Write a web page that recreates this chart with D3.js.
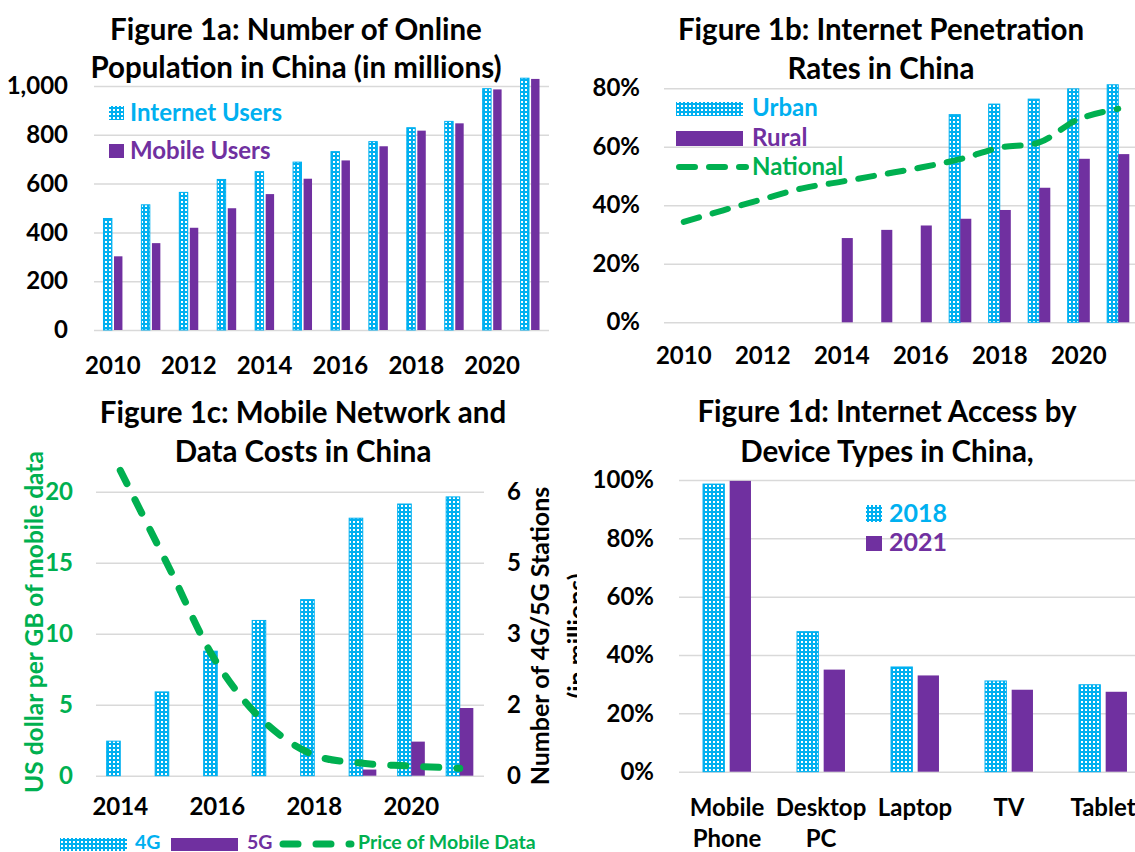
<!DOCTYPE html>
<meta charset="utf-8">
<style>
body { margin: 0; background: #fff; }
svg { display: block; font-family: Lato, "Open Sans", sans-serif; font-weight: bold; }
.grid line { stroke: #d9d9d9; stroke-width: 1.5px; }
.title { font-size: 29.5px; fill: #000; }
</style>
<svg width="1135" height="852"></svg>
<script src="https://d3js.org/d3.v7.min.js"></script>
<script>

// ---- data ----
var years = [2010, 2011, 2012, 2013, 2014, 2015, 2016, 2017, 2018, 2019, 2020, 2021];
var yearLabels = [2010, 2012, 2014, 2016, 2018, 2020];

// fig 1a (millions)
var internetUsers = [457, 513, 564, 617, 649, 688, 731, 772, 829, 855, 989, 1032];
var mobileUsers   = [302, 356, 419, 499, 557, 620, 695, 753, 817, 847, 986, 1029];
var ticks1a = [0, 200, 400, 600, 800, 1000];

// fig 1b (%)
var urbanRate    = [null, null, null, null, null, null, null, 71.0, 74.6, 76.3, 79.8, 81.2];
var ruralRate    = [null, null, null, null, 28.8, 31.6, 33.1, 35.4, 38.4, 46.0, 55.9, 57.5];
var nationalRate = [34.3, 38.3, 42.1, 45.8, 48.1, 50.5, 52.9, 55.8, 59.7, 61.5, 69.5, 73.0];
var ticks1b = [0, 20, 40, 60, 80];

// fig 1c
var years1c = [2014, 2015, 2016, 2017, 2018, 2019, 2020, 2021];
var yearLabels1c = [2014, 2016, 2018, 2020];
var stations4G = [0.73, 1.77, 2.63, 3.28, 3.72, 5.44, 5.74, 5.89];   // millions
var stations5G = [null, null, null, null, null, 0.13, 0.72, 1.43];
var dataPrice  = [21.5, 14.7, 7.9, 3.7, 1.45, 0.87, 0.68, 0.52];     // USD per GB
var ticks1cLeft = [0, 5, 10, 15, 20];
var ticks1cRight = [0, 1.5, 3, 4.5, 6];

// fig 1d (%)
var devices = ["Mobile\nPhone", "Desktop\nPC", "Laptop", "TV", "Tablet"];
var access2018 = [98.6, 48.0, 35.9, 31.1, 29.8];
var access2021 = [99.7, 35.0, 33.0, 28.1, 27.4];
var ticks1d = [0, 20, 40, 60, 80, 100];

var CYAN = "#00B0F0", PURPLE = "#7030A0", GREEN = "#00B050";

var svg = d3.select("svg");

// dotted fill used for the light blue series
var defs = svg.append("defs");
var pat = defs.append("pattern").attr("id", "dots")
    .attr("patternUnits", "userSpaceOnUse").attr("width", 4).attr("height", 4);
pat.append("rect").attr("width", 4).attr("height", 4).attr("fill", CYAN);
pat.append("rect").attr("x", 1).attr("y", 1).attr("width", 2).attr("height", 2).attr("fill", "#fff");

defs.append("clipPath").attr("id", "clip1c")
  .append("rect").attr("x", 0).attr("y", 390).attr("width", 577).attr("height", 462);

function gridAxis(g, y, x0, x1, ticks, fmt, pad, color) {
  var a = g.append("g").attr("class", "grid")
      .attr("transform", "translate(" + x0 + ",0)")
      .call(d3.axisLeft(y).tickValues(ticks).tickSize(-(x1 - x0)).tickPadding(pad).tickFormat(fmt));
  a.attr("font-family", null).attr("font-size", 24);
  a.select(".domain").remove();
  a.selectAll("text").attr("fill", color || "#000");
  return a;
}

function xAxis(g, x, yPos, ticks, pad) {
  var a = g.append("g")
      .attr("transform", "translate(0," + yPos + ")")
      .call(d3.axisBottom(x).tickValues(ticks).tickSize(0).tickPadding(pad));
  a.attr("font-family", null).attr("font-size", 24);
  a.select(".domain").remove();
  a.selectAll("text").attr("fill", "#000");
  return a;
}

function bars(g, cats, series, x0, y, innerPad) {
  var x1 = d3.scaleBand().domain(series.map(function(s) { return s.key; }))
      .range([0, x0.bandwidth()]).paddingInner(innerPad);
  series.forEach(function(s) {
    g.append("g").selectAll("rect")
      .data(cats.map(function(c, i) { return {c: c, v: s.values[i]}; })
                .filter(function(d) { return d.v != null; }))
      .join("rect")
        .attr("x", function(d) { return x0(d.c) + x1(s.key); })
        .attr("y", function(d) { return y(d.v); })
        .attr("width", x1.bandwidth())
        .attr("height", function(d) { return y(0) - y(d.v); })
        .attr("fill", s.fill)
        .attr("stroke", s.stroke || "none")
        .attr("stroke-width", 1);
  });
}

function dashLine(g, cats, values, x0, y, width, dash) {
  var line = d3.line()
      .defined(function(d) { return d.v != null; })
      .x(function(d) { return x0(d.c) + x0.bandwidth() / 2; })
      .y(function(d) { return y(d.v); })
      .curve(d3.curveCatmullRom.alpha(0.5));
  g.append("path")
      .datum(cats.map(function(c, i) { return {c: c, v: values[i]}; }))
      .attr("d", line)
      .attr("fill", "none")
      .attr("stroke", GREEN)
      .attr("stroke-width", width)
      .attr("stroke-linecap", "round")
      .attr("stroke-dasharray", dash);
}

function title(lines, cx, ys) {
  lines.forEach(function(t, i) {
    svg.append("text").attr("class", "title")
      .attr("x", cx).attr("y", ys[i]).attr("text-anchor", "middle").text(t);
  });
}

function legendText(g, x, y, txt, color, size) {
  g.append("text").attr("x", x).attr("y", y).attr("fill", color)
    .attr("font-size", size || 24).text(txt);
}

// ================= Figure 1a =================
var g1 = svg.append("g");
var x1a = d3.scaleBand().domain(years).range([94, 549]).paddingInner(0.5).paddingOuter(0.25);
var y1a = d3.scaleLinear().domain([0, 1000]).range([330, 86]);
gridAxis(g1, y1a, 94, 549, ticks1a, d3.format(","), 26);
xAxis(g1, x1a, 330, yearLabels, 26.5);
bars(g1, years, [
  {key: "internet", values: internetUsers, fill: "url(#dots)", stroke: CYAN},
  {key: "mobile", values: mobileUsers, fill: PURPLE}
], x1a, y1a, 0.2);
title(["Figure 1a: Number of Online", "Population in China (in millions)"], 296, [40, 78]);
g1.append("rect").attr("x", 109).attr("y", 106).attr("width", 15).attr("height", 14).attr("fill", "url(#dots)");
legendText(g1, 130, 121, "Internet Users", CYAN);
g1.append("rect").attr("x", 109).attr("y", 144).attr("width", 15).attr("height", 14).attr("fill", PURPLE);
legendText(g1, 130, 159, "Mobile Users", PURPLE);

// ================= Figure 1b =================
var g2 = svg.append("g");
var x1b = d3.scaleBand().domain(years).range([664, 1138]).paddingInner(0.44).paddingOuter(0.22);
var y1b = d3.scaleLinear().domain([0, 80]).range([322.3, 88.3]);
gridAxis(g2, y1b, 664, 1138, ticks1b, function(d) { return d + "%"; }, 24);
xAxis(g2, x1b, 322.3, yearLabels, 25);
bars(g2, years, [
  {key: "urban", values: urbanRate, fill: "url(#dots)", stroke: CYAN},
  {key: "rural", values: ruralRate, fill: PURPLE}
], x1b, y1b, 0);
dashLine(g2, years, nationalRate, x1b, y1b, 6, "16 14");
title(["Figure 1b: Internet Penetration", "Rates in China"], 881, [40, 79]);
g2.append("rect").attr("x", 676).attr("y", 102).attr("width", 67).attr("height", 14).attr("fill", "url(#dots)");
legendText(g2, 752, 116, "Urban", CYAN);
g2.append("rect").attr("x", 676).attr("y", 131).attr("width", 67).attr("height", 15).attr("fill", PURPLE);
legendText(g2, 752, 146, "Rural", PURPLE);
g2.append("line").attr("x1", 679).attr("x2", 746).attr("y1", 167).attr("y2", 167)
  .attr("stroke", GREEN).attr("stroke-width", 6).attr("stroke-linecap", "round").attr("stroke-dasharray", "16 14");
legendText(g2, 752, 175, "National", GREEN);

// ================= Figure 1c =================
var g3 = svg.append("g").attr("clip-path", "url(#clip1c)");
var x1c = d3.scaleBand().domain(years1c).range([96, 484]).paddingInner(0.44).paddingOuter(0.22);
var y1cL = d3.scaleLinear().domain([0, 20]).range([775.7, 491.7]);
var y1cR = d3.scaleLinear().domain([0, 6]).range([775.7, 491.7]);
gridAxis(g3, y1cL, 96, 484, ticks1cLeft, d3.format("d"), 23, GREEN);
var ar = g3.append("g").attr("transform", "translate(484,0)")
    .call(d3.axisRight(y1cR).tickValues(ticks1cRight).tickSize(0).tickPadding(23).tickFormat(d3.format(".0f")));
ar.attr("font-family", null).attr("font-size", 24);
ar.select(".domain").remove();
ar.selectAll("text").attr("fill", "#000");
xAxis(g3, x1c, 775.7, yearLabels1c, 22.3);
bars(g3, years1c, [
  {key: "4g", values: stations4G.map(function(v) { return v * 20 / 6; }), fill: "url(#dots)", stroke: CYAN},
  {key: "5g", values: stations5G.map(function(v) { return v == null ? null : v * 20 / 6; }), fill: PURPLE}
], x1c, y1cL, 0);
dashLine(g3, years1c, dataPrice, x1c, y1cL, 7, "15 18");
g3.append("text").attr("transform", "translate(43,622) rotate(-90)").attr("text-anchor", "middle")
  .attr("font-size", 24.5).attr("fill", GREEN).text("US dollar per GB of mobile data");
g3.append("text").attr("transform", "translate(549,636) rotate(-90)").attr("text-anchor", "middle")
  .attr("font-size", 25).attr("fill", "#000").text("Number of 4G/5G Stations");
g3.append("text").attr("transform", "translate(586,636) rotate(-90)").attr("text-anchor", "middle")
  .attr("font-size", 25).attr("fill", "#000").text("(in millions)");
title(["Figure 1c: Mobile Network and", "Data Costs in China"], 303, [423, 462]);
g3.append("rect").attr("x", 60).attr("y", 838).attr("width", 67).attr("height", 13).attr("fill", "url(#dots)");
legendText(g3, 135, 849, "4G", CYAN, 19.5);
g3.append("rect").attr("x", 171).attr("y", 838).attr("width", 67).attr("height", 13).attr("fill", PURPLE);
legendText(g3, 247, 849, "5G", PURPLE, 19.5);
g3.append("line").attr("x1", 283).attr("x2", 351).attr("y1", 844).attr("y2", 844)
  .attr("stroke", GREEN).attr("stroke-width", 7).attr("stroke-linecap", "round").attr("stroke-dasharray", "15 18");
legendText(g3, 358, 849, "Price of Mobile Data", GREEN, 19.5);

// ================= Figure 1d =================
var g4 = svg.append("g");
var x1d = d3.scaleBand().domain(devices).range([680, 1150]).paddingInner(0.49).paddingOuter(0.245);
var y1d = d3.scaleLinear().domain([0, 100]).range([771.7, 480]);
gridAxis(g4, y1d, 679, 1150, ticks1d, function(d) { return d + "%"; }, 25);
var ax4 = xAxis(g4, x1d, 771.7, devices, 27);
ax4.selectAll("text").text(null).attr("dy", null)
  .selectAll("tspan").data(function(d) { return d.split("\n"); })
  .join("tspan").attr("x", 0).attr("dy", function(d, i) { return i ? "1.29em" : "0.71em"; })
  .text(function(d) { return d; });
bars(g4, devices, [
  {key: "2018", values: access2018, fill: "url(#dots)", stroke: CYAN},
  {key: "2021", values: access2021, fill: PURPLE}
], x1d, y1d, 0.2);
title(["Figure 1d: Internet Access by", "Device Types in China,"], 887, [422, 462]);
g4.append("rect").attr("x", 866).attr("y", 505).attr("width", 16).attr("height", 17).attr("fill", "url(#dots)");
legendText(g4, 889, 522, "2018", CYAN, 25);
g4.append("rect").attr("x", 866).attr("y", 536).attr("width", 16).attr("height", 15).attr("fill", PURPLE);
legendText(g4, 889, 551, "2021", PURPLE, 25);

</script>
